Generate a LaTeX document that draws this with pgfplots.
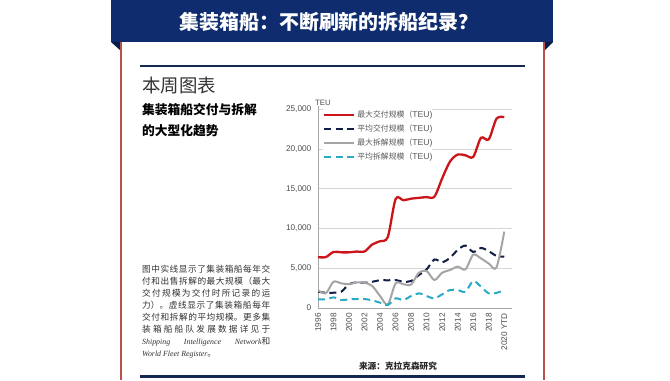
\documentclass[border=0pt]{standalone}
\usepackage{fontspec}
\setmainfont{Liberation Sans}
\newfontfamily\cjk{Noto Sans CJK SC}
\newfontfamily\serif{Liberation Serif}
\usepackage{pgfplots}
\pgfplotsset{compat=1.18}
\usepackage{pgfplotstable}
\definecolor{banner}{HTML}{0E2C6E}
\definecolor{flap}{HTML}{081C4A}
\definecolor{borderred}{HTML}{B8504C}
\definecolor{rulenavy}{HTML}{15284F}
\definecolor{redline}{HTML}{CC1519}
\definecolor{navyline}{HTML}{111E45}
\definecolor{grayline}{HTML}{A5A5A5}
\definecolor{tealline}{HTML}{2BAAC6}
\definecolor{axisgray}{HTML}{A6A6A6}
\definecolor{gridgray}{HTML}{D6D6D6}
\definecolor{ticktext}{HTML}{4D4D4D}
\definecolor{legtext}{HTML}{595959}
\definecolor{bodytext}{HTML}{333333}

\pgfplotstableread{
year maxdel avgdel maxdem avgdem
1996 6400 2050 2250 1090
1997 6400 1920 1850 1090
1998 7050 1920 3300 1340
1999 7000 2050 3100 1000
2000 7000 3000 3000 1090
2001 7100 3220 3220 1130
2002 7100 3180 3180 1130
2003 8000 3300 2760 960
2004 8400 3500 1500 670
2005 8950 3480 450 380
2006 13700 3520 3100 1210
2007 13550 3300 3000 1000
2008 13750 3400 2950 1510
2009 13850 4150 4440 1840
2010 13950 4860 4650 1510
2011 14000 6100 3520 1210
2012 16300 5750 4440 1720
2013 18400 6300 4770 2260
2014 19300 7300 5200 2260
2015 19200 7850 4860 2050
2016 19000 7050 6700 3390
2017 21400 7550 6240 2680
2018 21200 7150 5600 1840
2019 23800 6550 5100 1900
2020 24000 6450 9600 2260
}\datatable

\begin{document}
\begin{tikzpicture}
\begin{scope}[yshift=380bp, x=1bp, y=-1bp]
\fill[white] (0,0) rectangle (670,380);
\fill[banner] (111,0) rectangle (553,42);
\fill[flap] (111,42) -- (121,42) -- (121,51) -- cycle;
\fill[flap] (553,42) -- (544,42) -- (544,51) -- cycle;
\draw[borderred, line width=1.5bp] (121,42) -- (121,380);
\draw[borderred, line width=1.5bp] (544,42) -- (544,380);
\node[text=white, inner sep=0pt] at (329,22) {\fontsize{20}{22}\selectfont\cjk\bfseries 集装箱船：不断刷新的拆船纪录？};
\draw[rulenavy, line width=2bp] (140,66) -- (525,66);
\draw[rulenavy, line width=2.5bp] (140,376.5) -- (525,376.5);
\node[anchor=west, inner sep=0pt, text=bodytext] at (142,86) {\fontsize{18.5}{20}\selectfont\cjk 本周图表};
\node[anchor=west, inner sep=0pt, text=black] at (142,110) {\fontsize{12.8}{14}\selectfont\cjk\bfseries 集装箱船交付与拆解};
\node[anchor=west, inner sep=0pt, text=black] at (142,131) {\fontsize{12.8}{14}\selectfont\cjk\bfseries 的大型化趋势};
\node[anchor=north west, inner sep=0pt, text width=128bp, align=justify, text=bodytext] at (142,265) {%
\fontsize{8.7}{14.3}\selectfont\cjk
\XeTeXlinebreaklocale "zh"\XeTeXlinebreakskip=0pt plus 4pt\tolerance=9999
图中实线显示了集装箱船每年交\linebreak
付和出售拆解的最大规模（最大\linebreak
交付规模为交付时所记录的运\linebreak
力）。虚线显示了集装箱船每年\linebreak
交付和拆解的平均规模。更多集\linebreak
装箱船船队发展数据详见于\linebreak
{\serif\itshape\fontsize{7.9}{14.3}\selectfont Shipping Intelligence Network}和\linebreak
{\serif\itshape\fontsize{7.9}{14.3}\selectfont World Fleet Register}。};
\node[anchor=west, inner sep=0pt, text=ticktext] at (315,103) {\fontsize{7.8}{9}\selectfont TEU};
\node[inner sep=0pt, text=black!85] at (398,366) {\fontsize{8.7}{10}\selectfont\cjk\bfseries 来源：克拉克森研究};
\end{scope}

\begin{axis}[
  at={(318bp,72bp)}, anchor=south west,
  scale only axis, width=194bp, height=202bp,
  xmin=1996, xmax=2021, ymin=0, ymax=25400,
  axis lines*=left,
  axis line style={-, draw=axisgray, line width=0.9bp},
  ymajorgrids, grid style={draw=gridgray, line width=0.8bp},
  ytick={0,5000,10000,15000,20000,25000},
  xtick={1996,1998,...,2020},
  xticklabels={1996,1998,2000,2002,2004,2006,2008,2010,2012,2014,2016,2018,2020 YTD},
  major tick length=0pt,
  scaled y ticks=false,
  /pgf/number format/.cd, fixed, 1000 sep={,}, assume math mode=true,
  /pgfplots/.cd,
  tick label style={font=\fontsize{8.3}{10}\selectfont, text=ticktext},
  yticklabel style={anchor=east, inner sep=0pt, xshift=-6.5bp},
  xticklabel style={rotate=90, anchor=east, inner ysep=0pt, inner xsep=5bp},
  legend style={at={(0.026,0.992)}, anchor=north west, draw=none, fill=white,
    inner sep=0pt, outer sep=0pt, row sep=0pt, column sep=2bp,
    font=\fontsize{8.6}{10}\selectfont, text=legtext,
    nodes={inner sep=0pt, minimum height=14.1bp}},
  legend cell align=left,
  legend image code/.code={\draw[#1] (0bp,0bp) -- (30bp,0bp);},
]
\addplot[redline, line width=2.3bp, smooth, tension=0.5] table[x=year, y=maxdel] {\datatable};
\addlegendentry{{\cjk\fontsize{7.9}{10}\selectfont 最大交付规模（}TEU)}
\addplot[navyline, line width=2bp, dash pattern=on 7bp off 4.5bp, smooth, tension=0.5] table[x=year, y=avgdel] {\datatable};
\addlegendentry{{\cjk\fontsize{7.9}{10}\selectfont 平均交付规模（}TEU)}
\addplot[grayline, line width=2bp, smooth, tension=0.5] table[x=year, y=maxdem] {\datatable};
\addlegendentry{{\cjk\fontsize{7.9}{10}\selectfont 最大拆解规模（}TEU)}
\addplot[tealline, line width=2bp, dash pattern=on 7bp off 4.5bp, smooth, tension=0.5] table[x=year, y=avgdem] {\datatable};
\addlegendentry{{\cjk\fontsize{7.9}{10}\selectfont 平均拆解规模（}TEU)}
\end{axis}
\end{tikzpicture}
\end{document}
